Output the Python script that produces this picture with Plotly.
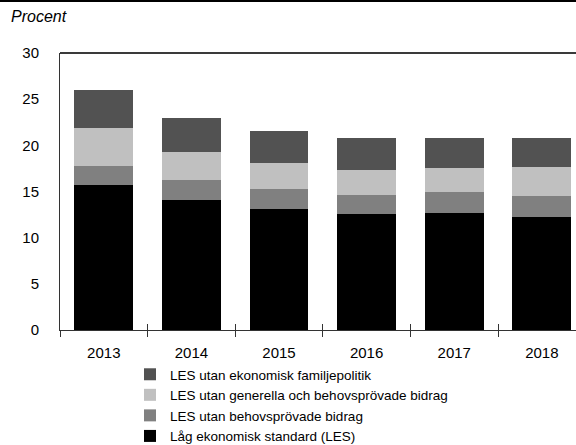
import plotly.graph_objects as go

years = ["2013", "2014", "2015", "2016", "2017", "2018"]
# cumulative levels (percent)
les = [15.7, 14.1, 13.1, 12.6, 12.7, 12.2]
utan_behov = [17.8, 16.2, 15.3, 14.6, 14.9, 14.5]
utan_generella = [21.9, 19.3, 18.1, 17.35, 17.5, 17.6]
utan_familj = [26.0, 23.0, 21.6, 20.8, 20.8, 20.8]

names = [
    "Låg ekonomisk standard (LES)",
    "LES utan behovsprövade bidrag",
    "LES utan generella och behovsprövade bidrag",
    "LES utan ekonomisk familjepolitik",
]
colors = ["#000000", "#808080", "#c0c0c0", "#525252"]

levels = [les, utan_behov, utan_generella, utan_familj]
segments = [levels[0]] + [
    [round(b - a, 2) for a, b in zip(levels[i - 1], levels[i])] for i in range(1, 4)
]

FONT = "Liberation Sans, Arial, sans-serif"
W, H = 576, 445
L, T, B = 60, 53, 115
PW, PH = W - L, H - T - B

fig = go.Figure()
for name, col, seg in zip(names, colors, segments):
    fig.add_trace(go.Bar(x=years, y=seg, name=name, marker=dict(color=col, line=dict(width=0))))

n = len(years)
xr = [-0.5, 5.39]
fig.update_layout(
    width=W, height=H,
    margin=dict(l=L, r=0, t=T, b=B, autoexpand=False),
    paper_bgcolor="white", plot_bgcolor="white",
    barmode="stack", bargap=0.33,
    showlegend=True,
    legend=dict(
        traceorder="reversed",
        xref="container", yref="container",
        x=130 / W, xanchor="left", y=1 - 359 / H, yanchor="top",
        font=dict(family=FONT, size=13.5, color="#000"),
        bgcolor="rgba(0,0,0,0)", borderwidth=0,
    ),
    font=dict(family=FONT, size=15, color="#000"),
    xaxis=dict(
        type="category", range=xr, showline=True, linecolor="#333", linewidth=1,
        ticks="outside", tickson="boundaries", ticklen=6, tickcolor="#333", tickwidth=1,
        showgrid=False, zeroline=False, automargin=False, ticklabelstandoff=9,
        tickfont=dict(family=FONT, size=15, color="#000"),
    ),
    xaxis2=dict(
        overlaying="x", anchor="y", range=xr, showline=False,
        tickmode="array", tickvals=[i - 0.5 for i in range(n + 1)],
        ticks="inside", ticklen=6, tickcolor="#333", tickwidth=1,
        showticklabels=False, showgrid=False, zeroline=False, automargin=False,
    ),
    yaxis=dict(
        range=[0, 30], dtick=5, showline=True, linecolor="#333", linewidth=1,
        ticks="", showgrid=False, zeroline=False, ticklabelstandoff=17, automargin=False,
        tickfont=dict(family=FONT, size=15, color="#000"),
    ),
    shapes=[
        dict(type="line", xref="paper", yref="paper", x0=0, x1=1, y0=1, y1=1,
             line=dict(color="#3a3a3a", width=2)),
        dict(type="line", xref="paper", yref="paper", x0=-L / PW, x1=1,
             y0=1 + (T - 1) / PH, y1=1 + (T - 1) / PH, line=dict(color="#000", width=2)),
    ],
    annotations=[
        dict(text="<i>Procent</i>", xref="paper", yref="paper",
             x=-(L - 9) / PW, y=1 + (T - 17) / PH, xanchor="left", yanchor="middle",
             showarrow=False, font=dict(family=FONT, size=16, color="#000")),
    ],
)
# invisible trace to activate the overlay axis that carries the inward tick halves
fig.add_trace(go.Scatter(x=[0], y=[0], xaxis="x2", yaxis="y", mode="markers",
                         marker=dict(opacity=0), showlegend=False, hoverinfo="skip"))

fig.write_html("out.html", config={"displayModeBar": False},
               post_script="document.body.style.margin='0';")
